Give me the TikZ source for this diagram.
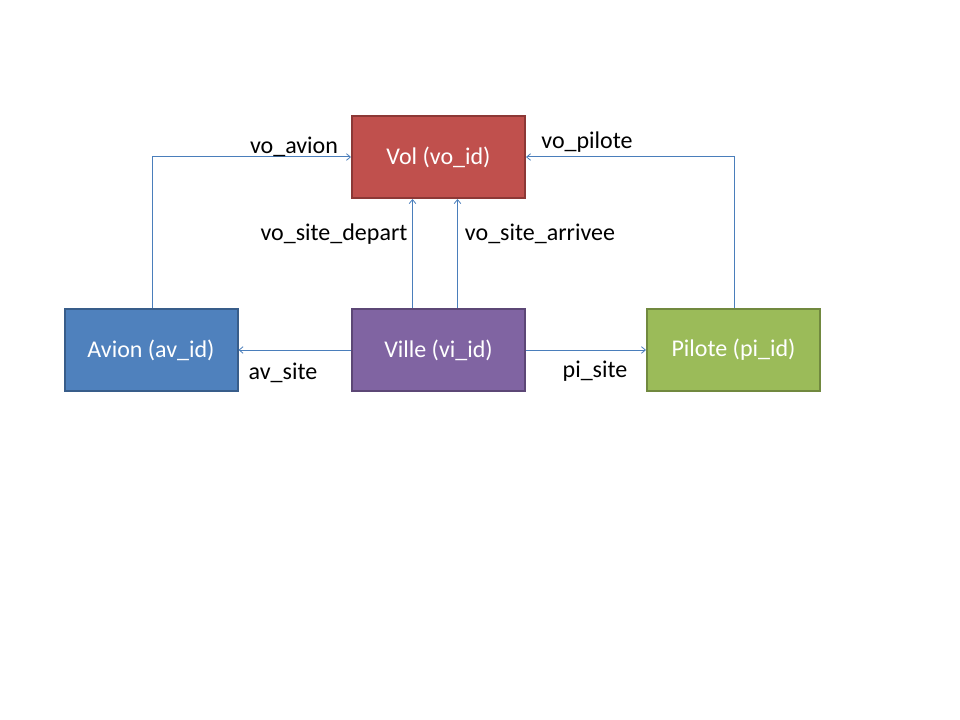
\documentclass[tikz,border=0pt]{standalone}
\usepackage{fontspec}
\setmainfont{Carlito}
\usetikzlibrary{arrows.meta}
\definecolor{volfill}{HTML}{C0504D}\definecolor{voledge}{HTML}{8C3836}
\definecolor{avfill}{HTML}{4F81BD}\definecolor{avedge}{HTML}{385D8A}
\definecolor{vifill}{HTML}{8064A2}\definecolor{viedge}{HTML}{5C4776}
\definecolor{pifill}{HTML}{9BBB59}\definecolor{piedge}{HTML}{71893F}
\definecolor{conn}{HTML}{4A7EBB}
\tikzset{
  entity/.style={draw, line width=1.5pt, minimum width=129.75pt, minimum height=61.5pt,
    inner sep=0pt, text=white, font=\fontsize{18pt}{21pt}\selectfont},
  lbl/.style={inner sep=0pt, font=\fontsize{18pt}{21pt}\selectfont, text=black},
  link/.style={draw=conn, line width=0.75pt, -{Straight Barb[length=3pt,width=5pt,line width=0.6pt]}}
}
\begin{document}
\begin{tikzpicture}[x=0.75pt,y=-0.75pt]
\useasboundingbox (0,0) rectangle (960,720);
\node[entity, fill=volfill, draw=voledge] (vol) at (438.5,157) {Vol (vo\_id)};
\node[entity, fill=avfill, draw=avedge] (avion) at (151,350) {Avion (av\_id)};
\node[entity, fill=vifill, draw=viedge] (ville) at (438.5,350) {Ville (vi\_id)};
\node[entity, fill=pifill, draw=piedge] (pilote) at (733.5,350) {Pilote (pi\_id)};
\coordinate (c1) at (152,157);
\coordinate (c2) at (734,157);
\draw[link] (avion.north -| c1) -- (c1) -- (vol.west);
\draw[link] (pilote.north -| c2) -- (c2) -- (vol.east);
\draw[link] ([xshift=-19.5pt]ville.north) -- ([xshift=-19.5pt]vol.south);
\draw[link] ([xshift=14.25pt]ville.north) -- ([xshift=14.25pt]vol.south);
\draw[link] (ville.west) -- (avion.east);
\draw[link] (ville.east) -- (pilote.west);
\node[lbl] (l1) at (294,147) {vo\_avion};
\node[lbl] (l2) at (587,142) {vo\_pilote};
\node[lbl] (l3) at (334,234) {vo\_site\_depart};
\node[lbl] (l4) at (540,234) {vo\_site\_arrivee};
\node[lbl] (l5) at (283,373) {av\_site};
\node[lbl] (l6) at (595,371) {pi\_site};
\end{tikzpicture}
\end{document}
